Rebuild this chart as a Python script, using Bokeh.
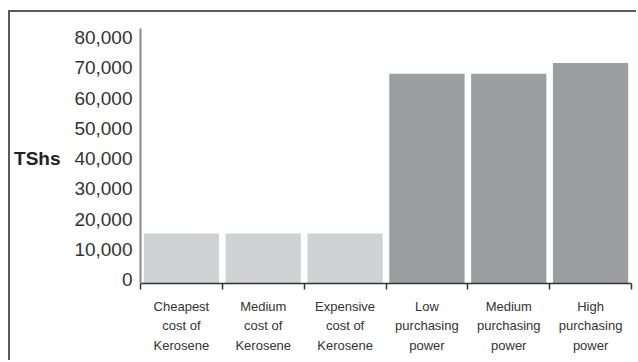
from bokeh.plotting import figure
from bokeh.models import Range1d, FixedTicker, LinearAxis, NumeralTickFormatter, ColumnDataSource
from bokeh.embed import file_html
from bokeh.resources import INLINE

categories = ["Cheapest\ncost of\nKerosene", "Medium\ncost of\nKerosene", "Expensive\ncost of\nKerosene",
              "Low\npurchasing\npower", "Medium\npurchasing\npower", "High\npurchasing\npower"]
values = [15200, 15200, 15200, 68000, 68000, 71600]
colors = ["#d1d2d4", "#d1d2d4", "#d1d2d4", "#9d9ea1", "#9d9ea1", "#9d9ea1"]
y_ticks = [0, 10000, 20000, 30000, 40000, 50000, 60000, 70000, 80000]
Y_START = -1300
Y_END = 83000

xs = [i + 0.5 for i in range(len(categories))]
src = ColumnDataSource(dict(x=xs, top=values, color=colors))

p = figure(width=628, height=350, output_backend="svg", toolbar_location=None,
           x_range=Range1d(0, len(categories)), y_range=Range1d(Y_START, Y_END),
           min_border_left=130, min_border_right=7, min_border_top=16, min_border_bottom=79)
p.styles = {"margin-left": "8px", "margin-top": "10px",
            "border-top": "2px solid #5a5a5a", "border-left": "2px solid #5a5a5a"}
p.outline_line_color = None
p.xgrid.visible = False
p.ygrid.visible = False
p.background_fill_color = "white"
p.border_fill_color = "white"

p.vbar(x="x", top="top", bottom=Y_START, width=0.92, color="color", source=src, line_color=None)

FONT = "Liberation Sans"

# x axis
xa = p.xaxis[0]
xa.ticker = FixedTicker(ticks=xs, minor_ticks=list(range(len(categories) + 1)))
xa.major_label_overrides = {x: c for x, c in zip(xs, categories)}
xa.major_tick_line_color = None
xa.major_tick_out = 0
xa.major_tick_in = 0
xa.minor_tick_line_color = "#333333"
xa.minor_tick_out = 6
xa.minor_tick_in = 0
xa.minor_tick_line_width = 1.5
xa.axis_line_color = "#333333"
xa.axis_line_width = 1.5
xa.major_label_text_font = FONT
xa.major_label_text_font_size = "13px"
xa.major_label_text_color = "#333333"
xa.major_label_text_line_height = 1.32
xa.major_label_standoff = 9

# y axis
ya = p.yaxis[0]
ya.ticker = FixedTicker(ticks=y_ticks)
ya.formatter = NumeralTickFormatter(format="0,0")
ya.major_tick_line_color = None
ya.minor_tick_line_color = None
ya.major_tick_out = 0
ya.axis_line_color = "#888888"
ya.axis_line_width = 2
ya.major_label_text_font = FONT
ya.major_label_text_font_size = "19px"
ya.major_label_text_color = "#333333"
ya.major_label_standoff = 8

# unit label as a second left axis
ua = LinearAxis(ticker=FixedTicker(ticks=[40000]), major_label_overrides={40000: "TShs"})
ua.axis_line_color = None
ua.major_tick_line_color = None
ua.minor_tick_line_color = None
ua.major_tick_out = 0
ua.major_label_text_font = FONT
ua.major_label_text_font_size = "19px"
ua.major_label_text_font_style = "bold"
ua.major_label_text_color = "#222222"
ua.major_label_standoff = 11
p.add_layout(ua, "left")

open("out.html", "w").write(file_html(p, INLINE))
